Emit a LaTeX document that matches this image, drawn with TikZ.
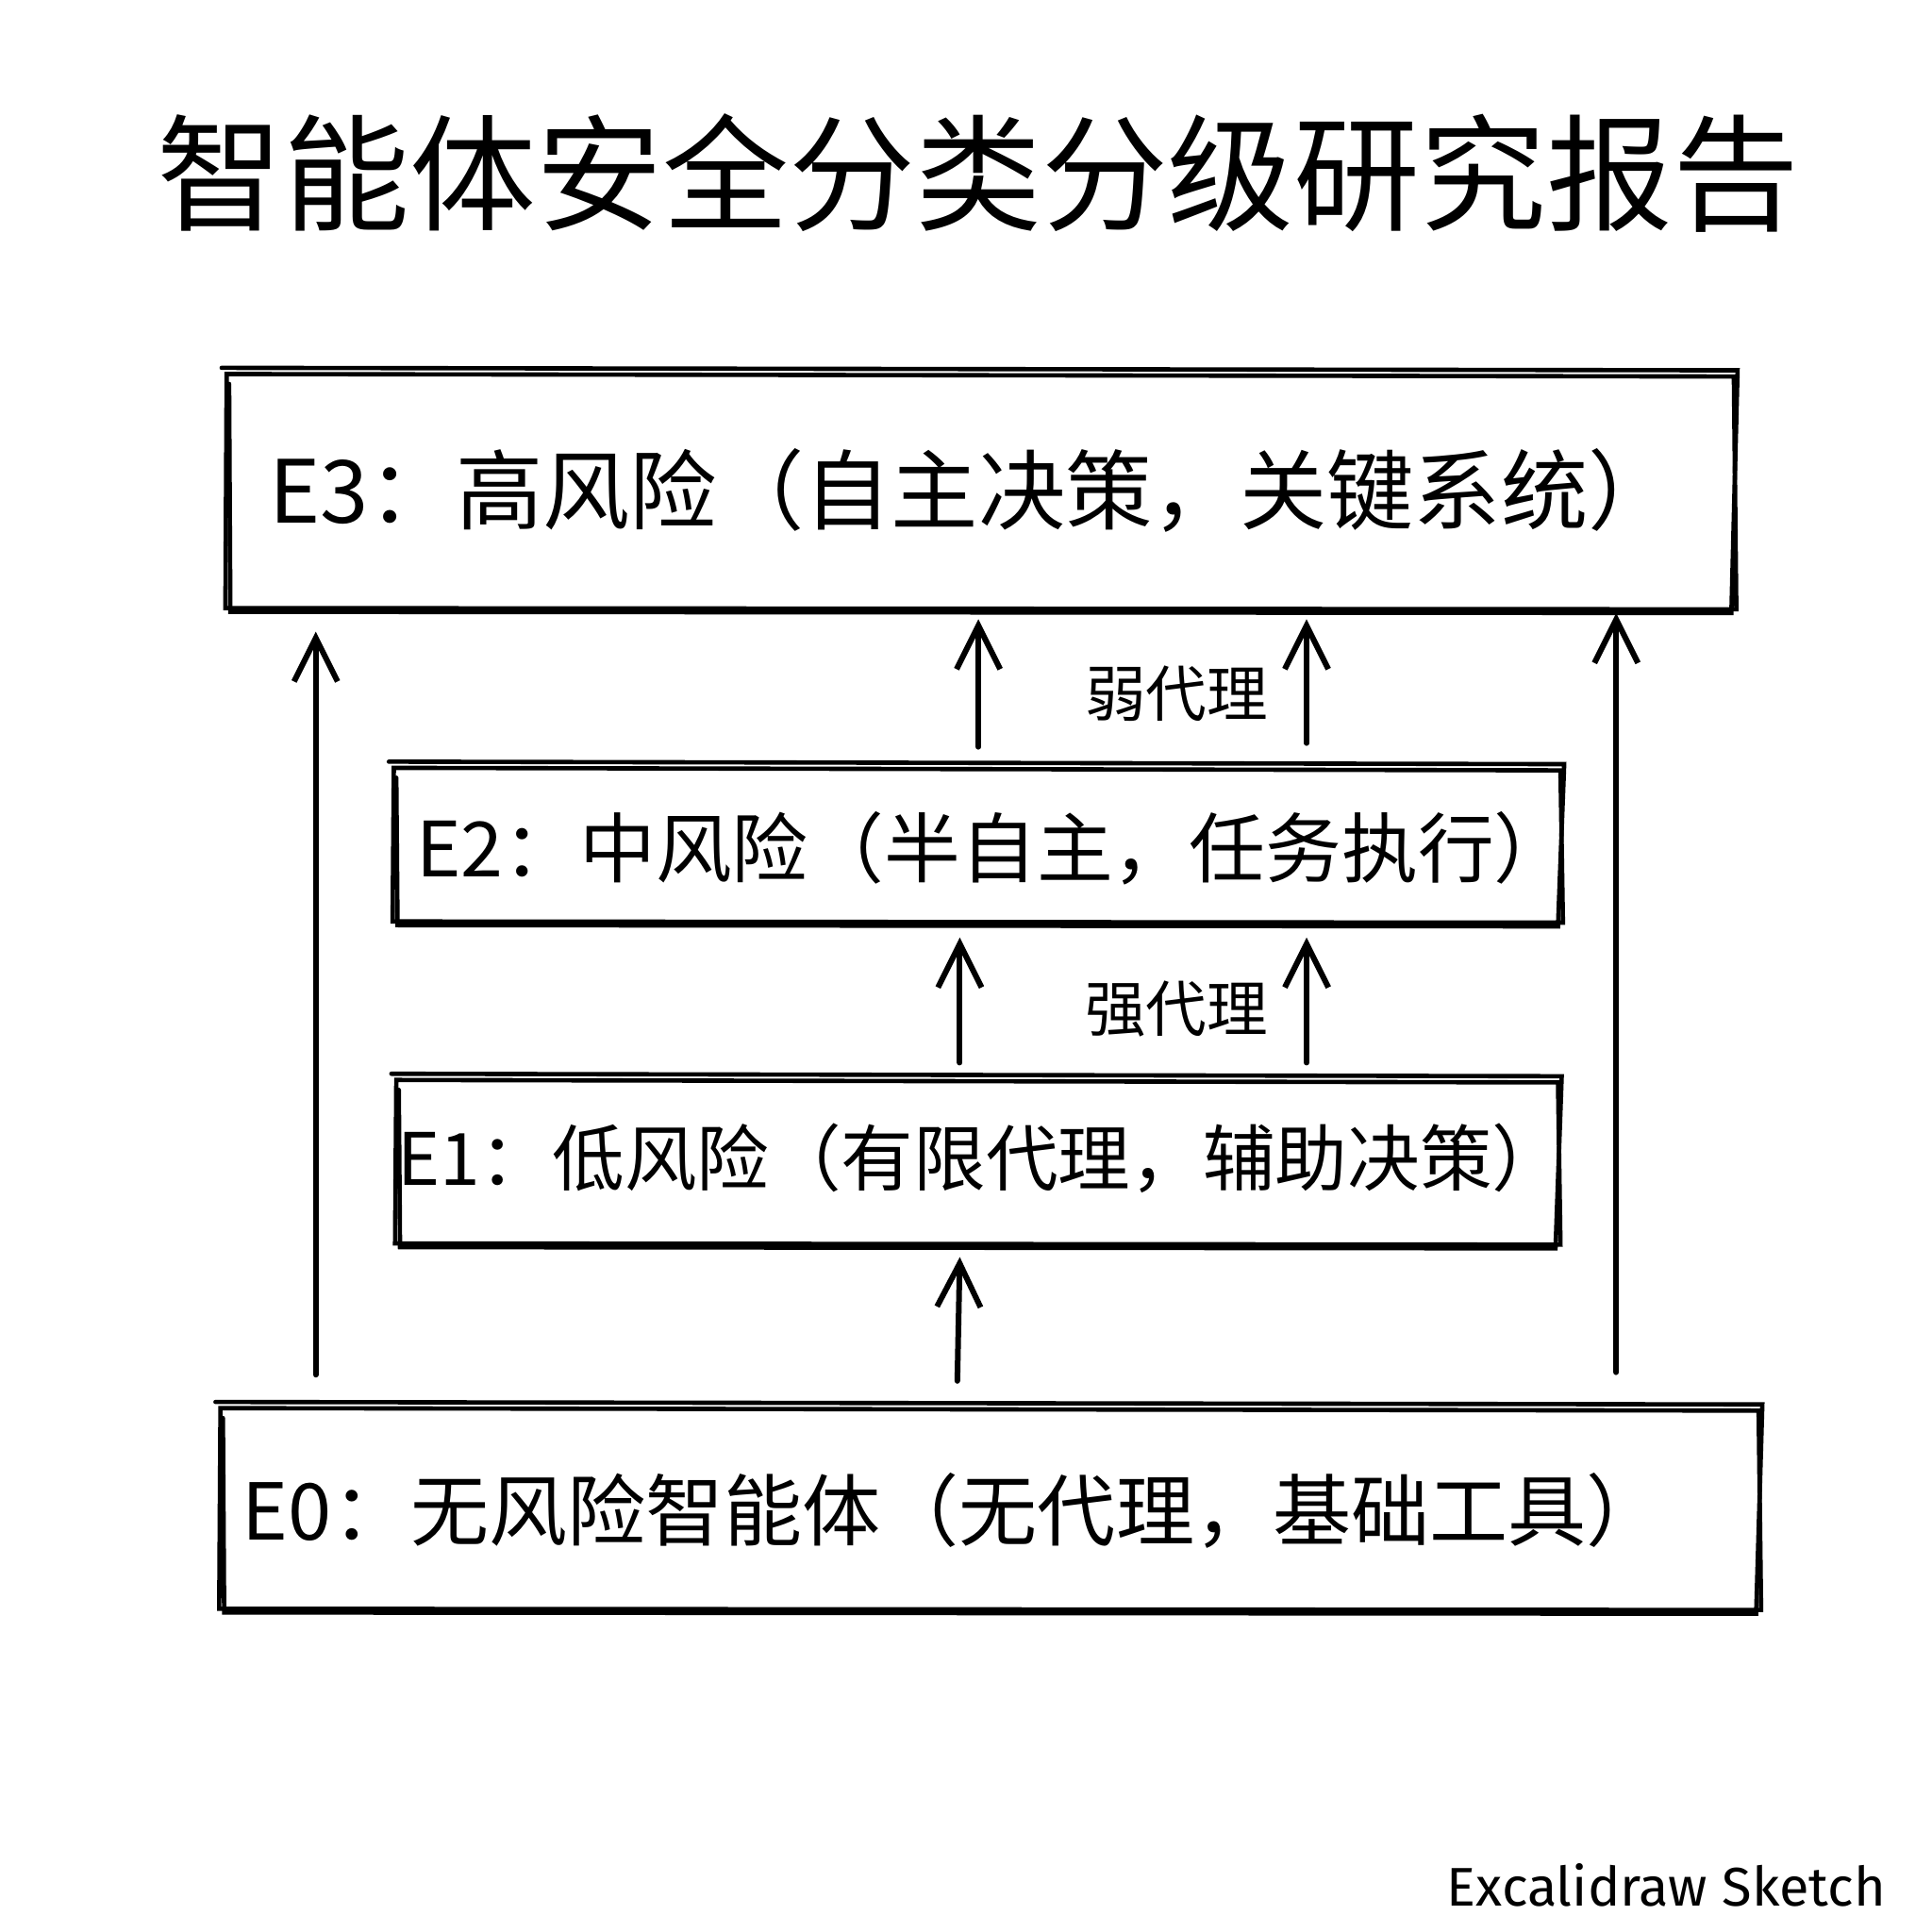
\documentclass[tikz,border=0pt]{standalone}
\usepackage{fontspec}
\newfontfamily\cjk{Noto Sans CJK SC}
\newfontfamily\hand{Fira Sans}
\usetikzlibrary{arrows.meta}
\begin{document}
\begin{tikzpicture}[x=0.01cm,y=-0.01cm,
  ln/.style={line width=1pt,black,line cap=round},
  arr/.style={line width=1.3pt,line cap=round,-{Straight Barb[length=10pt,width=10pt]}},
  lbl/.style={font=\cjk\fontsize{#1}{24}\selectfont,anchor=center},
  sm/.style={font=\cjk\fontsize{14}{17}\selectfont}]
\useasboundingbox (0,0) rectangle (1560,1560);
\node[font=\cjk\fontsize{29}{34}\selectfont] (title) at (790,140) {智能体安全分类分级研究报告};
\newcommand{\skbox}[4]{%
 \draw[ln] (#1,#2) -- (#3,#2+2) -- (#3+2,#4) -- (#1-1,#4-1) -- cycle;
 \draw[ln] (#1-4,#2-5) -- (#3+3,#2-3) -- (#3-2,#4+3) -- (#1+3,#4+2) -- (#1+2,#2+8);}
\skbox{183}{302}{1400}{492}
\skbox{318}{620}{1260}{745}
\skbox{320}{872}{1258}{1005}
\skbox{178}{1137}{1420}{1300}
\node[lbl=20] (e3) at (785,396) {E3：高风险（自主决策，关键系统）};
\node[lbl=17.5] (e2) at (802,685) {E2：中风险（半自主，任务执行）};
\node[lbl=16.6] (e1) at (792,935) {E1：低风险（有限代理，辅助决策）};
\node[lbl=18] (e0) at (770,1220) {E0：无风险智能体（无代理，基础工具）};
\coordinate (l0) at (255,1110); \coordinate (l1) at (255,510);
\coordinate (r0) at (1305,1108); \coordinate (r1) at (1305,495);
\draw[arr] (l0) -- (l1);
\draw[arr] (r0) -- (r1);
\coordinate (a0) at (773,1115); \coordinate (a1) at (775,1015);
\draw[arr] (a0) -- (a1);
\coordinate (b0) at (775,858); \coordinate (b1) at (775,757);
\coordinate (c0) at (1055,858); \coordinate (c1) at (1055,757);
\draw[arr] (b0) -- (b1); \draw[arr] (c0) -- (c1);
\coordinate (d0) at (790,603); \coordinate (d1) at (790,500);
\coordinate (f0) at (1055,600); \coordinate (f1) at (1055,500);
\draw[arr] (d0) -- (d1); \draw[arr] (f0) -- (f1);
\node[sm] (s) at (950,815) {强代理};
\node[sm] (w) at (950,560) {弱代理};
\node[font=\hand\fontsize{12.5}{15}\selectfont,anchor=east] (sig) at (1535,1522) {Excalidraw Sketch};
\end{tikzpicture}
\end{document}
